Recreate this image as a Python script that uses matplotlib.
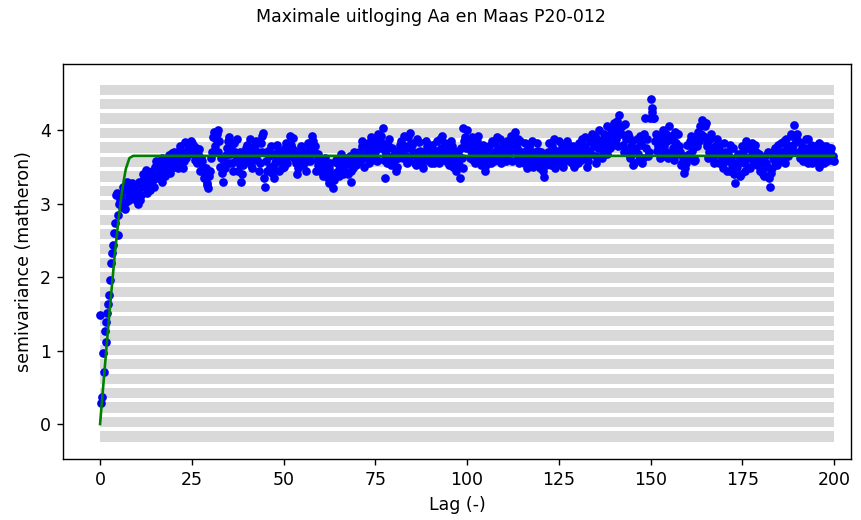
import numpy as np
import matplotlib
matplotlib.use("Agg")
import matplotlib.pyplot as plt

title = "Maximale uitloging Aa en Maas P20-012"
x_label = "Lag (-)"
y_label = "semivariance (matheron)"

lag_step = 0.25

# semivariance at lags 0, 0.5, 1.0, ..., 200
semivariance_even = [
    1.48, 0.37, 0.71, 1.12, 1.51, 1.75, 2.19, 2.44, 2.73, 3.14, 2.57, 3.05, 2.95, 3.18, 3.02, 3.25, 3.10, 3.20, 3.08, 3.23,
    3.15, 3.30, 3.05, 3.22, 3.35, 3.46, 3.28, 3.18, 3.40, 3.32, 3.50, 3.38, 3.55, 3.45, 3.30, 3.48, 3.60, 3.52, 3.42, 3.69,
    3.58, 3.50, 3.65, 3.72, 3.60, 3.48, 3.70, 3.62, 3.80, 3.75, 3.82, 3.78, 3.66, 3.55, 3.74, 3.62, 3.50, 3.40, 3.28, 3.21,
    3.45, 3.70, 3.98, 3.88, 4.00, 3.85, 3.62, 3.30, 3.48, 3.75, 3.90, 3.68, 3.55, 3.82, 3.60, 3.44, 3.70, 3.30, 3.52, 3.66,
    3.80, 3.58, 3.72, 3.48, 3.62, 3.85, 3.70, 3.55, 3.92, 3.96, 3.23, 3.45, 3.65, 3.78, 3.50, 3.35, 3.60, 3.72, 3.58, 3.48,
    3.62, 3.75, 3.55, 3.68, 3.80, 3.89, 3.72, 3.60, 3.48, 3.55, 3.70, 3.62, 3.45, 3.58, 3.75, 3.68, 3.85, 3.78, 3.60, 3.52,
    3.45, 3.58, 3.40, 3.52, 3.35, 3.48, 3.30, 3.21, 3.42, 3.55, 3.38, 3.50, 3.62, 3.45, 3.58, 3.40, 3.65, 3.30, 3.48, 3.60,
    3.55, 3.70, 3.62, 3.78, 3.50, 3.66, 3.82, 3.74, 3.60, 3.88, 3.70, 3.58, 3.85, 3.92, 4.03, 3.35, 3.68, 3.80, 3.62, 3.75,
    3.58, 3.68, 3.50, 3.72, 3.85, 3.62, 3.78, 3.55, 3.90, 3.96, 3.80, 3.66, 3.52, 3.70, 3.84, 3.60, 3.48, 3.65, 3.78, 3.58,
    3.68, 3.80, 3.55, 3.72, 3.62, 3.88, 3.75, 3.60, 3.82, 3.70, 3.52, 3.66, 3.78, 3.58, 3.45, 3.70, 3.35, 3.62, 4.03, 3.90,
    4.00, 3.85, 3.72, 3.60, 3.80, 3.68, 3.92, 3.75, 3.58, 3.70, 3.45, 3.62, 3.78, 3.55, 3.68, 3.82, 3.60, 3.74, 3.88, 3.66,
    3.72, 3.58, 3.85, 3.70, 3.92, 3.80, 3.98, 3.75, 3.62, 3.85, 3.68, 3.55, 3.72, 3.60, 3.78, 3.65, 3.50, 3.70, 3.82, 3.62,
    3.55, 3.68, 3.36, 3.52, 3.70, 3.60, 3.78, 3.65, 3.48, 3.72, 3.85, 3.62, 3.75, 3.58, 3.66, 3.80, 3.70, 3.55, 3.62, 3.76,
    3.68, 3.82, 3.60, 3.75, 3.90, 3.72, 3.58, 3.85, 3.95, 3.78, 3.65, 3.88, 4.00, 3.82, 3.70, 3.92, 4.05, 3.85, 3.75, 3.98,
    4.10, 3.88, 4.02, 4.20, 3.95, 3.80, 4.08, 3.72, 3.90, 3.62, 3.85, 3.55, 3.75, 3.68, 3.92, 3.80, 3.62, 4.16, 3.88, 3.70,
    4.42, 4.30, 4.16, 3.95, 3.78, 3.62, 3.88, 4.00, 3.72, 3.85, 4.05, 3.92, 3.75, 3.60, 3.82, 3.95, 3.70, 3.55, 3.42, 3.65,
    3.80, 3.68, 3.92, 3.75, 3.60, 3.85, 3.98, 4.05, 4.14, 3.90, 4.10, 3.82, 3.70, 3.95, 3.62, 3.78, 3.88, 3.55, 3.72, 3.65,
    3.82, 3.58, 3.70, 3.45, 3.62, 3.75, 3.28, 3.50, 3.65, 3.40, 3.78, 3.55, 3.85, 3.62, 3.48, 3.72, 3.60, 3.80, 3.52, 3.68,
    3.45, 3.62, 3.38, 3.55, 3.70, 3.23, 3.48, 3.60, 3.75, 3.52, 3.68, 3.82, 3.58, 3.72, 3.88, 3.65, 3.78, 3.92, 4.07, 3.85,
    3.95, 3.70, 3.82, 3.58, 3.75, 3.62, 3.88, 3.68, 3.55, 3.78, 3.65, 3.72, 3.50, 3.80, 3.62, 3.70, 3.58, 3.75, 3.68, 3.60,
    3.58,
]

# semivariance at lags 0.25, 0.75, 1.25, ..., 199.75
semivariance_odd = [
    0.28, 0.96, 1.26, 1.39, 1.64, 1.96, 2.33, 2.60, 3.12, 2.85, 3.00, 3.10, 3.22, 2.92, 3.30, 3.05, 3.18, 3.28, 3.12, 3.05,
    3.00, 3.22, 3.12, 3.40, 3.25, 3.15, 3.38, 3.30, 3.45, 3.22, 3.58, 3.35, 3.42, 3.62, 3.50, 3.38, 3.55, 3.66, 3.48, 3.60,
    3.70, 3.55, 3.48, 3.78, 3.65, 3.58, 3.84, 3.72, 3.68, 3.85, 3.70, 3.60, 3.76, 3.68, 3.45, 3.58, 3.35, 3.48, 3.25, 3.38,
    3.62, 3.90, 3.78, 3.95, 3.70, 3.50, 3.42, 3.58, 3.66, 3.85, 3.55, 3.78, 3.45, 3.70, 3.88, 3.60, 3.52, 3.40, 3.62, 3.75,
    3.65, 3.88, 3.52, 3.75, 3.80, 3.60, 3.45, 3.82, 3.70, 3.35, 3.58, 3.72, 3.50, 3.42, 3.68, 3.55, 3.80, 3.45, 3.65, 3.72,
    3.50, 3.82, 3.65, 3.92, 3.75, 3.62, 3.55, 3.40, 3.68, 3.78, 3.52, 3.60, 3.70, 3.82, 3.58, 3.92, 3.70, 3.45, 3.68, 3.60,
    3.52, 3.38, 3.62, 3.45, 3.28, 3.55, 3.40, 3.32, 3.60, 3.45, 3.55, 3.68, 3.40, 3.52, 3.62, 3.55, 3.45, 3.58, 3.70, 3.52,
    3.65, 3.58, 3.85, 3.62, 3.78, 3.72, 3.55, 3.90, 3.68, 3.80, 3.62, 3.95, 3.75, 3.82, 3.60, 3.72, 3.55, 3.88, 3.52, 3.65,
    3.72, 3.45, 3.62, 3.80, 3.68, 3.92, 3.65, 3.75, 3.58, 3.82, 3.70, 3.55, 3.88, 3.62, 3.72, 3.52, 3.70, 3.85, 3.62, 3.75,
    3.55, 3.72, 3.65, 3.85, 3.55, 3.70, 3.92, 3.68, 3.58, 3.80, 3.62, 3.85, 3.50, 3.72, 3.60, 3.52, 3.75, 3.48, 3.85, 3.75,
    3.78, 3.62, 3.90, 3.70, 3.55, 3.85, 3.65, 3.52, 3.80, 3.60, 3.52, 3.75, 3.65, 3.85, 3.58, 3.72, 3.90, 3.62, 3.55, 3.80,
    3.62, 3.78, 3.68, 3.82, 3.58, 3.90, 3.72, 3.88, 3.55, 3.70, 3.60, 3.82, 3.48, 3.75, 3.58, 3.85, 3.62, 3.55, 3.72, 3.48,
    3.70, 3.45, 3.58, 3.62, 3.82, 3.52, 3.68, 3.88, 3.60, 3.55, 3.72, 3.80, 3.50, 3.70, 3.85, 3.58, 3.62, 3.78, 3.50, 3.68,
    3.55, 3.70, 3.88, 3.62, 3.78, 3.50, 3.72, 3.68, 3.82, 3.92, 3.55, 3.75, 3.85, 3.62, 3.95, 3.78, 3.68, 3.90, 4.02, 3.80,
    3.92, 4.12, 3.78, 3.98, 4.05, 3.70, 3.88, 3.95, 3.65, 3.78, 3.52, 3.70, 3.88, 3.60, 3.82, 3.55, 3.95, 3.75, 3.65, 4.16,
    4.25, 4.16, 3.85, 3.72, 3.92, 3.80, 3.65, 3.78, 3.95, 3.62, 3.88, 3.70, 3.85, 3.98, 3.68, 3.78, 3.52, 3.62, 3.48, 3.55,
    3.62, 3.85, 3.72, 3.58, 3.90, 3.78, 3.85, 3.95, 3.92, 4.05, 3.78, 3.62, 3.88, 3.75, 3.55, 3.68, 3.72, 3.80, 3.58, 3.48,
    3.70, 3.45, 3.62, 3.80, 3.52, 3.40, 3.55, 3.68, 3.38, 3.62, 3.70, 3.45, 3.75, 3.50, 3.65, 3.82, 3.55, 3.70, 3.62, 3.45,
    3.55, 3.40, 3.65, 3.50, 3.35, 3.42, 3.62, 3.72, 3.55, 3.80, 3.62, 3.70, 3.85, 3.55, 3.78, 3.72, 3.95, 3.80, 3.70, 3.92,
    3.85, 3.62, 3.75, 3.68, 3.88, 3.55, 3.72, 3.80, 3.62, 3.70, 3.58, 3.82, 3.65, 3.72, 3.55, 3.78, 3.62, 3.70, 3.75, 3.65,
]

lags_even = np.arange(len(semivariance_even)) * 2 * lag_step
lags_odd = np.arange(len(semivariance_odd)) * 2 * lag_step + lag_step
lags = np.concatenate([lags_even, lags_odd])
semivariance = np.concatenate([semivariance_even, semivariance_odd])

model_lag = [0, 1, 2, 3, 4, 5, 6, 7, 8, 9, 200]
model_val = [0.0, 0.60, 1.19, 1.76, 2.30, 2.78, 3.18, 3.47, 3.62, 3.65, 3.65]

band_count = 25
band_bottom = -0.17
band_top = 4.55
band_height = 0.14

fig = plt.figure(figsize=(861 / 125, 520 / 125), dpi=125)
ax = fig.add_axes([63 / 861, 1 - 459 / 520, (851 - 63) / 861, (459 - 64) / 520])

band_y = np.linspace(band_bottom, band_top, band_count)
ax.barh(band_y, [lags.max()] * band_count, left=0, height=band_height,
        color="#d9d9d9", zorder=1)

ax.plot(lags, semivariance, "o", color="blue", markersize=4.0, zorder=2)
ax.plot(model_lag, model_val, "-", color="green", linewidth=1.5, zorder=3)

ax.set_xlim(-10.1, 204.6)
ax.set_ylim(-0.476, 4.90)
ax.set_xticks([0, 25, 50, 75, 100, 125, 150, 175, 200])
ax.set_yticks([0, 1, 2, 3, 4])
ax.set_xlabel(x_label)
ax.set_ylabel(y_label)
fig.suptitle(title, fontsize=10, y=0.985)

fig.savefig("out.png", dpi=125)
